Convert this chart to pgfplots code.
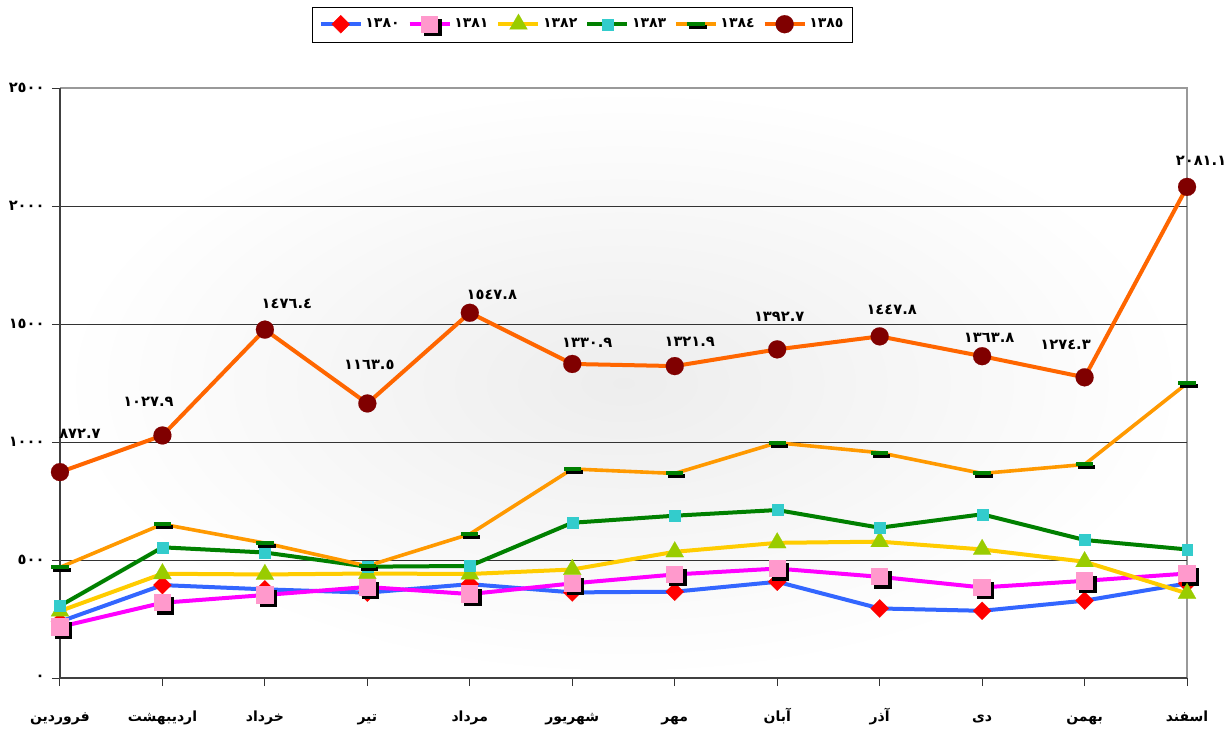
\documentclass[border=0pt]{standalone}
\usepackage{pgfplots}
\pgfplotsset{compat=1.18}
\usepackage{pgfplotstable}
\usepackage{fontspec}
\setmainfont{DejaVu Sans}
\newfontfamily\arabicfont[Script=Arabic]{DejaVu Sans}
\TeXXeTstate=1

\definecolor{c80line}{HTML}{3366FF}
\definecolor{c80mk}{HTML}{FF0000}
\definecolor{c81line}{HTML}{FF00FF}
\definecolor{c81mk}{HTML}{FF99CC}
\definecolor{c82line}{HTML}{FFCC00}
\definecolor{c82mk}{HTML}{99CC00}
\definecolor{c83line}{HTML}{008000}
\definecolor{c83mk}{HTML}{33CCCC}
\definecolor{c84line}{HTML}{FF9900}
\definecolor{c84mk}{HTML}{008000}
\definecolor{c85line}{HTML}{FF6600}
\definecolor{c85mk}{HTML}{800000}

\pgfdeclareplotmark{pinksh}{%
  \pgfpathrectangle{\pgfpoint{-\pgfplotmarksize+2.5pt}{-\pgfplotmarksize-2.5pt}}{\pgfpoint{2*\pgfplotmarksize}{2*\pgfplotmarksize}}%
  \pgfsetfillcolor{black}\pgfusepathqfill
  \pgfpathrectangle{\pgfpoint{-\pgfplotmarksize}{-\pgfplotmarksize}}{\pgfpoint{2*\pgfplotmarksize}{2*\pgfplotmarksize}}%
  \pgfsetfillcolor{c81mk}\pgfusepathqfill}
\pgfdeclareplotmark{dashsh}{%
  \pgfpathrectangle{\pgfpoint{-\pgfplotmarksize+1.5pt}{-3.7pt}}{\pgfpoint{2*\pgfplotmarksize}{3pt}}%
  \pgfsetfillcolor{black}\pgfusepathqfill
  \pgfpathrectangle{\pgfpoint{-\pgfplotmarksize}{-1.5pt}}{\pgfpoint{2*\pgfplotmarksize}{3pt}}%
  \pgfsetfillcolor{c84mk}\pgfusepathqfill}

\pgfplotstableread{
x y
0 239
1 394
2 376
3 362
4 398
5 363
6 366
7 408
8 295
9 285
10 328
11 401
}\tA
\pgfplotstableread{
x y
0 217
1 319
2 352
3 386
4 356
5 401
6 439
7 464
8 429
9 384
10 412
11 443
}\tB
\pgfplotstableread{
x y
0 284
1 442
2 439
3 443
4 441
5 460
6 535
7 573
8 578
9 545
10 493
11 359
}\tC
\pgfplotstableread{
x y
0 306
1 554
2 532
3 472
4 475
5 658
6 688
7 712
8 637
9 694
10 585
11 545
}\tD
\pgfplotstableread{
x y
0 469
1 652
2 572
3 475
4 610
5 886
6 867
7 997
8 955
9 867
10 905
11 1249
}\tE
\pgfplotstableread{
x y lab dx dy
0 872.7 {\beginR ٨٧٢.٧\endR} 15 28.5
1 1027.9 {\beginR ١٠٢٧.٩\endR} -10.5 25.5
2 1476.4 {\beginR ١٤٧٦.٤\endR} 16.5 19.5
3 1163.5 {\beginR ١١٦٣.٥\endR} 1.5 29.25
4 1547.8 {\beginR ١٥٤٧.٨\endR} 16.5 13.5
5 1330.9 {\beginR ١٣٣٠.٩\endR} 11.25 15.75
6 1321.9 {\beginR ١٣٢١.٩\endR} 11.25 18
7 1392.7 {\beginR ١٣٩٢.٧\endR} 1.5 24.75
8 1447.8 {\beginR ١٤٤٧.٨\endR} 9 20.25
9 1363.8 {\beginR ١٣٦٣.٨\endR} 5.25 13.5
10 1274.3 {\beginR ١٢٧٤.٣\endR} -14.25 24
11 2081.1 {\beginR ٢٠٨١.١\endR} 10.5 19.5
}\tF

\begin{document}
\begin{tikzpicture}
\begin{axis}[
  scale only axis, width=845.25pt, height=442.5pt,
  xmin=0, xmax=11, ymin=0, ymax=2500,
  clip=false,
  axis line style={draw=none},
  axis background/.style={inner color=black!7, outer color=white},
  xtick={0,...,11},
  xticklabels={{\beginR فروردین\endR},{\beginR اردیبهشت\endR},{\beginR خرداد\endR},{\beginR تیر\endR},{\beginR مرداد\endR},{\beginR شهریور\endR},{\beginR مهر\endR},{\beginR آبان\endR},{\beginR آذر\endR},{\beginR دی\endR},{\beginR بهمن\endR},{\beginR اسفند\endR}},
  ytick={0,500,1000,1500,2000,2500},
  yticklabels={٠,٥٠٠,١٠٠٠,١٥٠٠,٢٠٠٠,٢٥٠٠},
  tick align=outside, major tick length=6pt,
  xtick pos=left, ytick pos=left,
  tick style={black!80, line width=0.75pt},
  xticklabel style={font=\arabicfont\bfseries\fontsize{10.5}{12}\selectfont, anchor=north, text height=9pt, text depth=3.5pt, yshift=-14pt},
  yticklabel style={font=\arabicfont\bfseries\fontsize{11}{13}\selectfont, xshift=-2pt},
  legend style={at={(rel axis cs:0.4636,1.1068)}, anchor=center, draw=black, line width=0.75pt,
    font=\arabicfont\bfseries\fontsize{10.5}{12}\selectfont, inner sep=4.5pt,
    /tikz/every even column/.append style={column sep=4pt}},
  legend columns=6,
  legend cell align=left,
  legend image code/.code={\draw[mark repeat=2,mark phase=2] plot coordinates {(0pt,0pt)(15pt,0pt)(30pt,0pt)};},
]
\draw[black!40, line width=1.2pt] (rel axis cs:0,1) -- (rel axis cs:1,1) -- (rel axis cs:1,0);
\foreach \g in {500,1000,1500,2000}{\edef\tmp{\noexpand\draw[black!80, line width=0.8pt] (axis cs:0,\g) -- (axis cs:11,\g);}\tmp}
\draw[black!75, line width=1.4pt] (rel axis cs:0,1) -- (rel axis cs:0,0) -- (rel axis cs:1,0);

\addplot[c80line, line width=3pt, mark=square*, mark size=4.8pt, mark options={solid, rotate=45, draw=c80mk, fill=c80mk, line width=0.1pt}] table[x=x,y=y]{\tA};
\addplot[c81line, line width=3pt, mark=pinksh, mark size=6.5pt] table[x=x,y=y]{\tB};
\addplot[c82line, line width=3pt, mark=triangle*, mark size=7.8pt, mark options={solid, draw=c82mk, fill=c82mk, line width=0.1pt}] table[x=x,y=y]{\tC};
\addplot[c83line, line width=3pt, mark=square*, mark size=4.1pt, mark options={solid, draw=c83mk, fill=c83mk, line width=0.1pt}] table[x=x,y=y]{\tD};
\addplot[c84line, line width=2.7pt, mark=dashsh, mark size=6.5pt] table[x=x,y=y]{\tE};
\addplot[c85line, line width=3pt, mark=*, mark size=6.75pt, mark options={solid, draw=c85mk, fill=c85mk, line width=0.1pt},
  point meta=explicit symbolic,
  visualization depends on={\thisrow{dx}\as\dx},
  visualization depends on={\thisrow{dy}\as\dy},
  nodes near coords,
  nodes near coords style={font=\arabicfont\bfseries\fontsize{11}{13}\selectfont, text=black, anchor=center, xshift=\dx pt, yshift=\dy pt}
] table[x=x,y=y,meta=lab]{\tF};
\legend{١٣٨٠,١٣٨١,١٣٨٢,١٣٨٣,١٣٨٤,١٣٨٥}
\coordinate (bbl) at (rel axis cs:-0.0532,-0.0864);
\coordinate (btr) at (rel axis cs:1.0390,1.1492);
\end{axis}
\pgfresetboundingbox
\path[use as bounding box] (bbl) rectangle (btr);
\end{tikzpicture}
\end{document}
